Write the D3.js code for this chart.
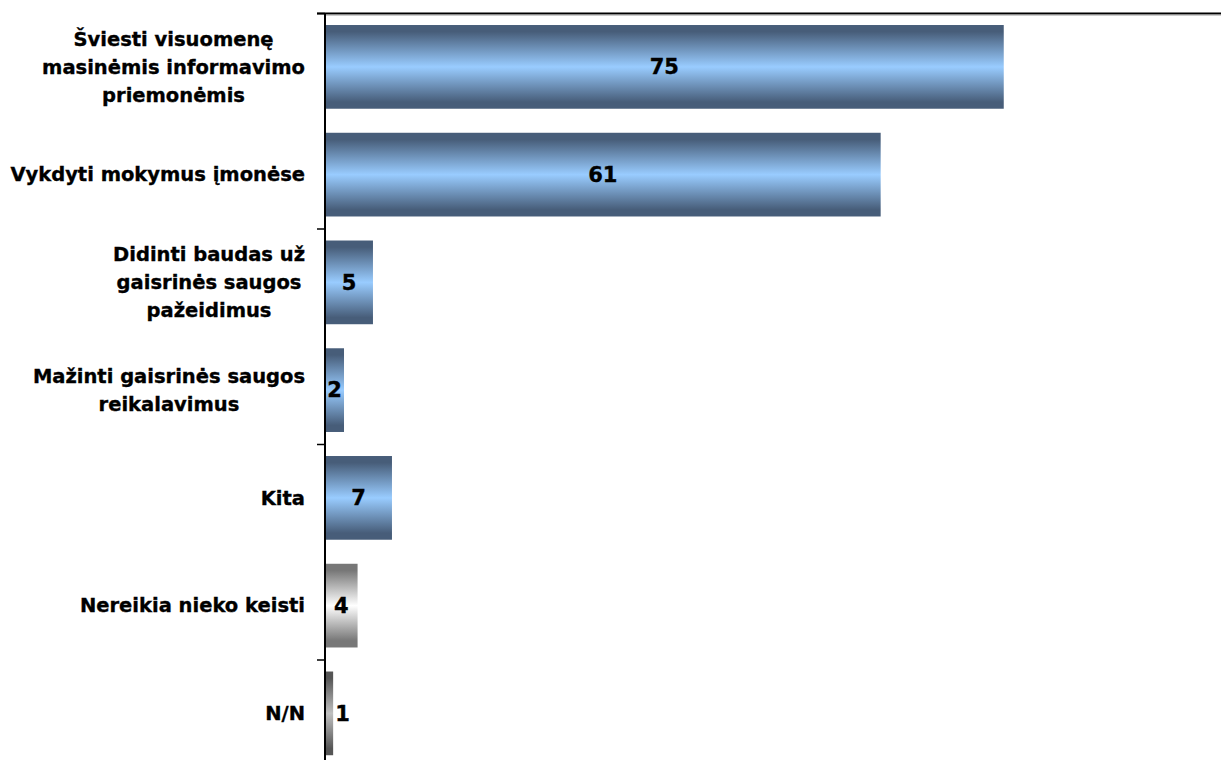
<!DOCTYPE html>
<html>
<head>
<meta charset="utf-8">
<script src="https://cdn.jsdelivr.net/npm/d3@7"></script>
<style>
  html, body { margin: 0; padding: 0; background: #fff; }
  svg { display: block; }
  text { font-family: "DejaVu Sans", Verdana, sans-serif; font-weight: bold; fill: #000; stroke: #000; stroke-width: 0.35px; }
</style>
</head>
<body>
<svg id="chart" width="1221" height="760"></svg>
<script>
const categories = [
  "Šviesti visuomenę\nmasinėmis informavimo\npriemonėmis",
  "Vykdyti mokymus įmonėse",
  "Didinti baudas už\ngaisrinės saugos\npažeidimus",
  "Mažinti gaisrinės saugos\nreikalavimus",
  "Kita",
  "Nereikia nieko keisti",
  "N/N"
];
const values = [75, 61.4, 5.3, 2.1, 7.4, 3.6, 0.9];
const valueLabels = ["75", "61", "5", "2", "7", "4", "1"];
const barStyles = ["blue", "blue", "blue", "blue", "blue", "gray", "dark"];

const svg = d3.select("#chart");
const axisX = 325, topY = 13;
const step = 107.75;

const x = d3.scaleLinear().domain([0, 100]).range([axisX, axisX + 905]);
const y = d3.scaleBand().domain(categories)
  .range([topY, topY + step * categories.length])
  .paddingInner(0.223).paddingOuter(0.1115);

const defs = svg.append("defs");
function grad(id, edge, mid) {
  const g = defs.append("linearGradient").attr("id", id)
    .attr("x1", 0).attr("y1", 0).attr("x2", 0).attr("y2", 1);
  g.append("stop").attr("offset", "0%").attr("stop-color", edge);
  g.append("stop").attr("offset", "8%").attr("stop-color", edge);
  g.append("stop").attr("offset", "50%").attr("stop-color", mid);
  g.append("stop").attr("offset", "92%").attr("stop-color", edge);
  g.append("stop").attr("offset", "100%").attr("stop-color", edge);
}
grad("blue", "#475d79", "#99ccff");
grad("gray", "#777777", "#ffffff");
grad("dark", "#555555", "#c0c0c0");

// bars
svg.append("g").selectAll("rect").data(categories).join("rect")
  .attr("x", x(0))
  .attr("y", d => y(d))
  .attr("width", (d, i) => x(values[i]) - x(0))
  .attr("height", y.bandwidth())
  .attr("fill", (d, i) => `url(#${barStyles[i]})`);

// top border line
svg.append("line")
  .attr("x1", axisX - 8).attr("x2", 1221)
  .attr("y1", topY + 0.5).attr("y2", topY + 0.5)
  .attr("stroke", "#000").attr("stroke-width", 2);
svg.append("line")
  .attr("x1", axisX).attr("x2", 1221)
  .attr("y1", topY + 2).attr("y2", topY + 2)
  .attr("stroke", "#999").attr("stroke-width", 1);

// vertical axis
svg.append("line")
  .attr("x1", axisX).attr("x2", axisX)
  .attr("y1", topY).attr("y2", 760)
  .attr("stroke", "#000").attr("stroke-width", 2);

// ticks every other category boundary
const tickIdx = [0, 2, 4, 6];
svg.append("g").selectAll("line").data(tickIdx).join("line")
  .attr("x1", axisX - 8).attr("x2", axisX)
  .attr("y1", i => y.range()[0] + i * y.step() + 0.5)
  .attr("y2", i => y.range()[0] + i * y.step() + 0.5)
  .attr("stroke", "#000").attr("stroke-width", 1.5);

// category labels (multi-line, centered block right-aligned at 305)
const lineH = 28, fs = 19.5, vfs = 21;
const labG = svg.append("g");
categories.forEach((c, i) => {
  const lines = c.split("\n");
  const cy = y(c) + y.bandwidth() / 2;
  const t = labG.append("text").attr("font-size", fs).attr("text-anchor", "middle");
  const tsp = lines.map((l, k) => t.append("tspan").text(l)
    .attr("y", cy + (k - (lines.length - 1) / 2) * lineH)
    .attr("dy", "0.35em"));
  const w = d3.max(tsp, s => s.node().getComputedTextLength());
  tsp.forEach(s => s.attr("x", 305 - w / 2));
});

// value labels
svg.append("g").selectAll("text").data(categories).join("text")
  .attr("font-size", vfs)
  .attr("text-anchor", "middle")
  .attr("dy", "0.35em")
  .attr("y", d => y(d) + y.bandwidth() / 2)
  .text((d, i) => valueLabels[i])
  .attr("x", function (d, i) {
    const w = this.getComputedTextLength();
    const bw = x(values[i]) - x(0);
    if (bw < w + 2) return x(values[i]) + 2 + w / 2;
    return x(0) + bw / 2;
  });
</script>
</body>
</html>
